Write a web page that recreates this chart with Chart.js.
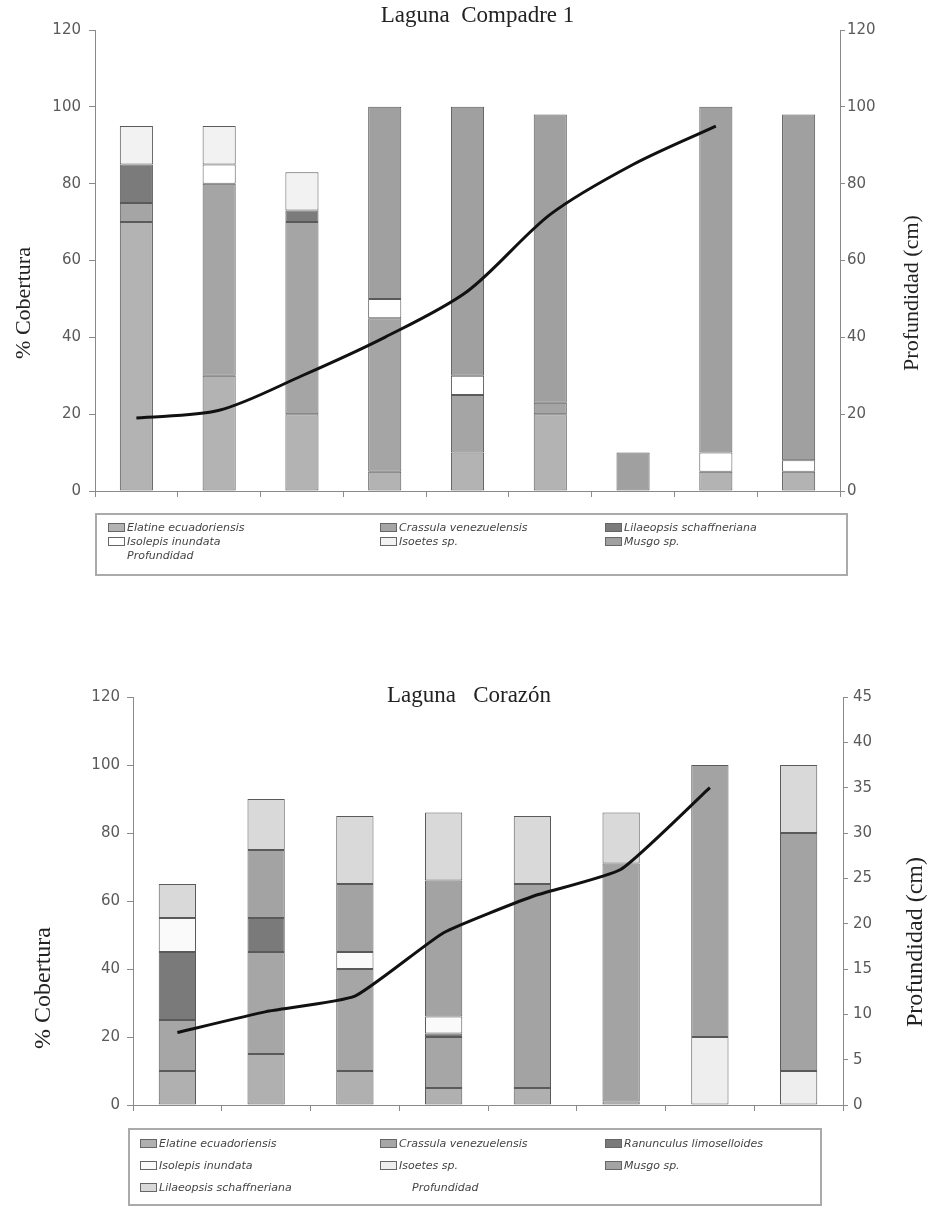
<!DOCTYPE html>
<html>
<head>
<meta charset="utf-8">
<script src="https://cdn.jsdelivr.net/npm/chart.js@4.4.1/dist/chart.umd.min.js"></script>
<style>
  body { margin: 0; background: #fff; width: 930px; height: 1207px; position: relative; overflow: hidden; }
  canvas { position: absolute; left: 0; }
  .leyenda { position: absolute; border: 2px solid #aaa; box-sizing: border-box; font-family: "DejaVu Sans", Verdana, sans-serif; font-style: italic; font-size: 11px; color: #444; }
  .item { position: absolute; white-space: nowrap; line-height: 13px; }
  .sw { display: inline-block; width: 17px; height: 9px; border: 1px solid #666; box-sizing: border-box; vertical-align: -1px; margin-right: 2px; }
</style>
</head>
<body>
<canvas id="graficoCompadre" width="930" height="600" style="top:0"></canvas>
<canvas id="graficoCorazon" width="930" height="607" style="top:600px"></canvas>
<div id="leyendaCompadre" class="leyenda" style="left:95px; top:513px; width:753px; height:63px"></div>
<div id="leyendaCorazon" class="leyenda" style="left:128px; top:1128px; width:694px; height:78px"></div>
<script>
// Laguna Compadre 1 (9 puntos de muestreo)
const puntosCompadre = ["1", "2", "3", "4", "5", "6", "7", "8", "9"];
const elatineCompadre = [70, 30, 20, 5, 10, 20, null, 5, 5];
const crassulaCompadre = [5, 50, 50, 40, 15, 3, null, null, null];
const lilaeopsisCompadre = [10, null, 3, null, null, null, null, null, null];
const isolepisCompadre = [null, 5, null, 5, 5, null, null, 5, 3];
const isoetesCompadre = [10, 10, 10, null, null, null, null, null, null];
const musgoCompadre = [null, null, null, 50, 70, 75, 10, 90, 90];
const profCompadre = [19, 21, 30, 40, 52, 72, 85, 95, null];
const ticksCompadreIzq = [0, 120, 20];
const ticksCompadreDer = [0, 120, 20];

// Laguna Corazón (8 puntos de muestreo)
const puntosCorazon = ["1", "2", "3", "4", "5", "6", "7", "8"];
const elatineCorazon = [10, 15, 10, 5, 5, 1, null, null];
const crassulaCorazon = [15, 30, 30, 15, null, null, null, null];
const ranunculusCorazon = [20, 10, null, 1, null, null, null, null];
const isolepisCorazon = [10, null, 5, 5, null, null, null, null];
const isoetesCorazon = [null, null, null, null, null, null, 20, 10];
const musgoCorazon = [null, 20, 20, 40, 60, 70, 80, 70];
const lilaeopsisCorazon = [10, 15, 20, 20, 20, 15, null, 20];
const profCorazon = [8, 10.3, 12, 19, 23, 26, 35, null];
const ticksCorazonIzq = [0, 120, 20];
const ticksCorazonDer = [0, 45, 5];

const GRIS_EJE = "#8a8a8a";
const SERIF = "'Liberation Serif', 'Times New Roman', serif";

// titulo y nombres de ejes dibujados a mano (en la figura no siguen el centro del eje)
const pluginTextos = {
  id: "textosLaguna",
  afterDraw(chart, args, opts) {
    const ctx = chart.ctx;
    const area = chart.chartArea;
    ctx.save();
    ctx.fillStyle = "#222";
    ctx.textAlign = "center";
    ctx.textBaseline = "middle";
    ctx.font = opts.size + "px " + SERIF;
    ctx.fillText(opts.text, (area.left + area.right) / 2 + opts.dx, area.top + opts.dy);
    opts.ejes.forEach((e) => {
      ctx.save();
      ctx.font = e.size + "px " + SERIF;
      ctx.translate(e.x, e.y);
      ctx.rotate(-Math.PI / 2);
      ctx.fillText(e.text, 0, 0);
      ctx.restore();
    });
    ctx.restore();
  }
};

function barra(label, data, color, pct) {
  return {
    type: "bar", label, data,
    backgroundColor: color, borderColor: "#5a5a5a", borderWidth: 1,
    borderSkipped: false, yAxisID: "y", stack: "s", order: 1,
    categoryPercentage: 1, barPercentage: pct
  };
}

function linea(data, tension) {
  return {
    type: "line", label: "Profundidad", data,
    borderColor: "#111", borderWidth: 3, pointRadius: 0,
    tension: tension, yAxisID: "y1", order: 0, spanGaps: false
  };
}

function ejeY(pos, rango, ancho, marca, pad) {
  return {
    position: pos, min: rango[0], max: rango[1],
    stacked: pos === "left",
    ticks: { stepSize: rango[2], color: "#5a5a5a", font: { family: "DejaVu Sans, Verdana, sans-serif", size: 15 }, padding: pad },
    grid: { drawOnChartArea: false, tickLength: marca, color: GRIS_EJE },
    border: { color: GRIS_EJE, width: 1 },
    afterFit: (s) => { s.width = ancho; }
  };
}

function crearGrafico(id, labels, datasets, cfg) {
  const ctx = document.getElementById(id).getContext("2d");
  return new Chart(ctx, {
    data: { labels, datasets },
    plugins: [pluginTextos],
    options: {
      responsive: false,
      animation: false,
      layout: { padding: { top: cfg.top, left: 0, right: 0, bottom: 0 } },
      plugins: {
        legend: { display: false },
        tooltip: { enabled: false },
        textosLaguna: cfg.textos
      },
      scales: {
        x: {
          stacked: true,
          grid: { offset: true, drawOnChartArea: false, tickLength: 6, color: GRIS_EJE },
          border: { color: GRIS_EJE, width: 1 },
          ticks: { callback: () => "" },
          afterFit: (s) => { s.height = cfg.abajo; }
        },
        y: ejeY("left", cfg.izq, cfg.anchoIzq, 6, cfg.padIzq),
        y1: ejeY("right", cfg.der, cfg.anchoDer, 5, cfg.padDer)
      }
    }
  });
}

crearGrafico("graficoCompadre", puntosCompadre, [
  barra("Elatine ecuadoriensis", elatineCompadre, "#b3b3b3", 0.4),
  barra("Crassula venezuelensis", crassulaCompadre, "#a5a5a5", 0.4),
  barra("Lilaeopsis schaffneriana", lilaeopsisCompadre, "#7b7b7b", 0.4),
  barra("Isolepis inundata", isolepisCompadre, "#ffffff", 0.4),
  barra("Isoetes sp.", isoetesCompadre, "#f2f2f2", 0.4),
  barra("Musgo sp.", musgoCompadre, "#a0a0a0", 0.4),
  linea(profCompadre, 0.3)
], {
  top: 30, abajo: 109, anchoIzq: 95, anchoDer: 90,
  izq: ticksCompadreIzq, der: ticksCompadreDer, padIzq: 8, padDer: 2,
  textos: {
    text: "Laguna  Compadre 1", size: 23, dx: 10, dy: -14,
    ejes: [
      { text: "% Cobertura", x: 24, y: 303, size: 22 },
      { text: "Profundidad (cm)", x: 912, y: 293, size: 22 }
    ]
  }
});

crearGrafico("graficoCorazon", puntosCorazon, [
  barra("Elatine ecuadoriensis", elatineCorazon, "#b0b0b0", 0.42),
  barra("Crassula venezuelensis", crassulaCorazon, "#a6a6a6", 0.42),
  barra("Ranunculus limoselloides", ranunculusCorazon, "#7a7a7a", 0.42),
  barra("Isolepis inundata", isolepisCorazon, "#fafafa", 0.42),
  barra("Isoetes sp.", isoetesCorazon, "#eeeeee", 0.42),
  barra("Musgo sp.", musgoCorazon, "#a3a3a3", 0.42),
  barra("Lilaeopsis schaffneriana", lilaeopsisCorazon, "#d9d9d9", 0.42),
  linea(profCorazon, 0.15)
], {
  top: 97, abajo: 102, anchoIzq: 133, anchoDer: 87,
  izq: ticksCorazonIzq, der: ticksCorazonDer, padIzq: 7, padDer: 5,
  textos: {
    text: "Laguna   Corazón", size: 23, dx: -19, dy: -1,
    ejes: [
      { text: "% Cobertura", x: 44, y: 388, size: 24 },
      { text: "Profundidad (cm)", x: 916, y: 342, size: 24 }
    ]
  }
});

// leyendas en rejilla de 3 columnas, como en la figura original
function leyenda(id, items, cols) {
  const cont = document.getElementById(id);
  items.forEach((it) => {
    const div = document.createElement("div");
    div.className = "item";
    div.style.left = cols[it.c] + "px";
    div.style.top = it.y + "px";
    div.innerHTML = (it.color ? '<span class="sw" style="background:' + it.color + '"></span>' : '<span style="display:inline-block;width:' + (it.sp || 19) + 'px"></span>') + it.t;
    cont.appendChild(div);
  });
}

leyenda("leyendaCompadre", [
  { t: "Elatine ecuadoriensis", color: "#b3b3b3", c: 0, y: 6 },
  { t: "Crassula venezuelensis", color: "#a5a5a5", c: 1, y: 6 },
  { t: "Lilaeopsis schaffneriana", color: "#7b7b7b", c: 2, y: 6 },
  { t: "Isolepis inundata", color: "#ffffff", c: 0, y: 20 },
  { t: "Isoetes sp.", color: "#f2f2f2", c: 1, y: 20 },
  { t: "Musgo sp.", color: "#a0a0a0", c: 2, y: 20 },
  { t: "Profundidad", c: 0, y: 34 }
], [11, 283, 508]);

leyenda("leyendaCorazon", [
  { t: "Elatine ecuadoriensis", color: "#b0b0b0", c: 0, y: 7 },
  { t: "Crassula venezuelensis", color: "#a6a6a6", c: 1, y: 7 },
  { t: "Ranunculus limoselloides", color: "#7a7a7a", c: 2, y: 7 },
  { t: "Isolepis inundata", color: "#fafafa", c: 0, y: 29 },
  { t: "Isoetes sp.", color: "#eeeeee", c: 1, y: 29 },
  { t: "Musgo sp.", color: "#a3a3a3", c: 2, y: 29 },
  { t: "Lilaeopsis schaffneriana", color: "#d9d9d9", c: 0, y: 51 },
  { t: "Profundidad", c: 1, y: 51, sp: 32 }
], [10, 250, 475]);
</script>
</body>
</html>
